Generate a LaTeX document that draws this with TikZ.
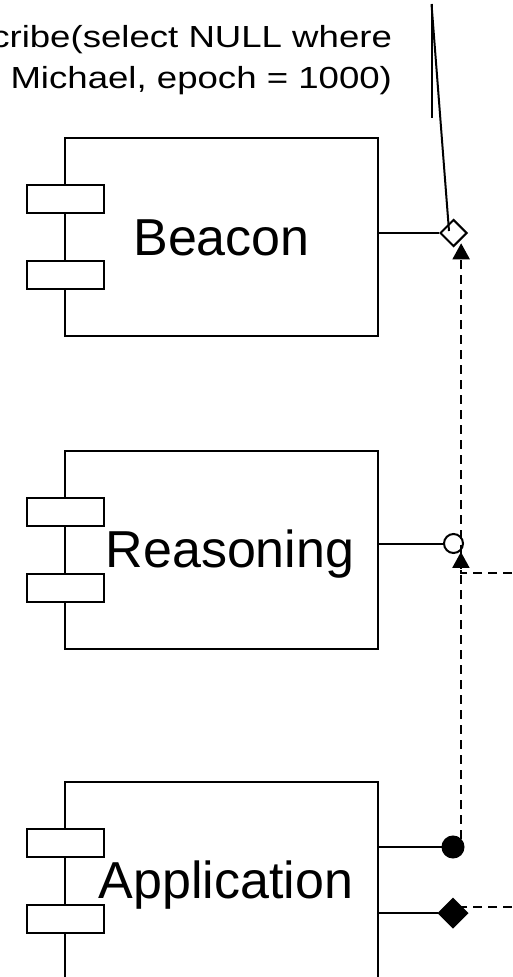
\documentclass[tikz,border=0pt]{standalone}
\usepackage{fontspec}
\setmainfont{Liberation Sans}
\newfontfamily\lblfont[FakeStretch=1.2]{Liberation Sans}
\usetikzlibrary{shapes.geometric,arrows.meta}
\begin{document}
\begin{tikzpicture}[x=1pt,y=-1pt, line width=2pt,
  compbox/.style={draw, minimum width=313pt, minimum height=198pt, inner sep=0pt},
  portbox/.style={draw, fill=white, minimum width=77pt, minimum height=28pt, inner sep=0pt},
  cname/.style={font=\fontsize{52}{60}\selectfont, inner sep=0pt, anchor=base},
  lbl/.style={font=\lblfont\fontsize{30.5}{41}\selectfont, inner sep=0pt, anchor=base east},
  dep/.style={dash pattern=on 9pt off 6pt},
  deptip/.style={-{Triangle[width=17pt,length=16pt]}},
  odia/.style={diamond, draw, aspect=1, inner sep=0pt, minimum width=27pt, minimum height=27pt},
  fdia/.style={diamond, draw, fill=black, aspect=1, inner sep=0pt, minimum width=29pt, minimum height=29pt},
  ocirc/.style={circle, draw, fill=white, inner sep=0pt, minimum size=19pt},
  fcirc/.style={circle, draw, fill=black, inner sep=0pt, minimum size=21pt}
]
\path[use as bounding box] (0,0) rectangle (512,977);
\clip (0,0) rectangle (512,977);

% label text
\node[lbl] (l1) at (393,47) {cribe(select NULL where};
\node[lbl] (l2) at (393,88) {Michael, epoch = 1000)};

% components
\node[compbox] (beacon) at (221.5,237) {};
\node[compbox] (reasoning) at (221.5,550) {};
\node[compbox] (application) at (221.5,881) {};

\node[portbox] (bp1) at (65.5,199) {};
\node[portbox] (bp2) at (65.5,275) {};
\node[portbox] (rp1) at (65.5,512) {};
\node[portbox] (rp2) at (65.5,588) {};
\node[portbox] (ap1) at (65.5,842.5) {};
\node[portbox] (ap2) at (65.5,918.5) {};

\node[cname] (beacontxt) at (221.5,255) {Beacon};
\node[cname] (reasoningtxt) at (230,567) {Reasoning};
\node[cname] (applicationtxt) at (226,898) {Application};

% port markers
\node[odia] (bdia) at (453.5,233) {};
\node[ocirc] (rc) at (453.5,543.5) {};
\node[fcirc] (apc) at (453,847) {};
\node[fdia] (adia) at (453,913) {};

% port connectors
\draw (beacon.east |- bdia.west) -- (bdia.west);
\draw (reasoning.east |- rc.west) -- (rc.west);
\draw (application.east |- apc.west) -- (apc.west);
\draw (application.east |- adia.west) -- (adia.west);

% top lines
\coordinate (tA) at (431.5,4);
\coordinate (tB) at (431.5,118);
\coordinate (tC) at (449,231);
\draw (tA) -- (tB);
\draw (tA) -- (tC);

% dependencies
\draw[dep, deptip, shorten >=3pt] (apc.north east) -- (apc.north east |- bdia.south east);
\coordinate (rin) at (512,573);
\draw[dep, deptip, shorten >=1pt] (rin) -| (rc.south east);
\coordinate (ain) at (512,907);
\draw[dep] (ain) -- (ain -| adia.north east);
\end{tikzpicture}
\end{document}
